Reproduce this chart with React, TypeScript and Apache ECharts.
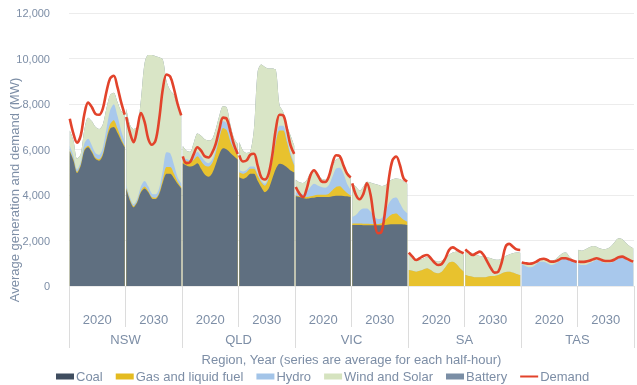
import React, { useEffect, useRef } from 'react';
import * as echarts from 'echarts';

const regions = ['NSW', 'QLD', 'VIC', 'SA', 'TAS'];
const years = ['2020', '2030'];

// each row: one region-year, 16 readings across the average day (every 1.5 h)
const coal = [
  [5910, 5510, 4970, 5290, 5960, 6100, 5880, 5590, 5510, 5740, 6400, 6910, 6990, 6740, 6400, 6100],
  [4260, 3750, 3460, 3680, 4120, 4290, 4120, 3850, 3820, 4040, 4560, 4930, 4930, 4740, 4490, 4290],
  [5400, 5300, 5250, 5300, 5400, 5150, 4900, 4800, 4950, 5350, 5800, 6050, 6000, 5850, 5700, 5550],
  [4780, 4710, 4780, 4930, 4930, 4630, 4340, 4120, 4270, 4710, 5150, 5370, 5330, 5220, 5080, 5000],
  [3940, 3910, 3870, 3840, 3870, 3880, 3910, 3910, 3910, 3910, 3940, 3970, 3970, 3960, 3940, 3910],
  [2680, 2680, 2680, 2670, 2670, 2670, 2670, 2670, 2670, 2680, 2700, 2710, 2710, 2710, 2700, 2680],
  [0, 0, 0, 0, 0, 0, 0, 0, 0, 0, 0, 0, 0, 0, 0, 0],
  [0, 0, 0, 0, 0, 0, 0, 0, 0, 0, 0, 0, 0, 0, 0, 0],
  [0, 0, 0, 0, 0, 0, 0, 0, 0, 0, 0, 0, 0, 0, 0, 0],
  [0, 0, 0, 0, 0, 0, 0, 0, 0, 0, 0, 0, 0, 0, 0, 0],
];
const gas = [
  [60, 60, 50, 50, 60, 70, 60, 60, 60, 70, 100, 200, 300, 200, 100, 60],
  [60, 50, 50, 50, 60, 80, 60, 60, 60, 70, 150, 300, 300, 200, 100, 60],
  [150, 200, 200, 250, 300, 350, 400, 450, 450, 500, 700, 900, 850, 500, 300, 200],
  [220, 220, 220, 220, 220, 230, 220, 290, 440, 730, 1180, 1470, 1510, 1110, 660, 300],
  [40, 40, 40, 70, 70, 100, 100, 100, 100, 150, 270, 380, 410, 280, 150, 70],
  [70, 70, 70, 70, 70, 60, 60, 60, 90, 220, 350, 450, 480, 340, 210, 150],
  [700, 670, 630, 670, 730, 780, 700, 590, 560, 630, 820, 1030, 1070, 970, 780, 630],
  [480, 440, 410, 380, 380, 380, 410, 440, 440, 480, 560, 620, 630, 590, 530, 480],
  [0, 0, 0, 0, 0, 0, 0, 0, 0, 0, 0, 0, 0, 0, 0, 0],
  [0, 0, 0, 0, 0, 0, 0, 0, 0, 0, 0, 0, 0, 0, 0, 0],
];
const hydro = [
  [200, 150, 100, 120, 250, 300, 250, 200, 200, 250, 400, 600, 700, 550, 350, 200],
  [120, 100, 80, 100, 200, 250, 200, 150, 150, 200, 400, 650, 600, 400, 200, 150],
  [100, 80, 80, 100, 200, 200, 200, 150, 150, 150, 200, 300, 300, 200, 150, 100],
  [100, 100, 100, 100, 100, 80, 80, 80, 100, 120, 150, 200, 200, 150, 120, 100],
  [150, 100, 120, 220, 410, 510, 410, 340, 310, 370, 590, 810, 820, 710, 410, 250],
  [290, 370, 560, 670, 670, 540, 320, 210, 220, 370, 590, 690, 700, 590, 440, 370],
  [0, 0, 0, 0, 0, 0, 0, 0, 0, 0, 0, 0, 0, 0, 0, 0],
  [0, 0, 0, 0, 0, 0, 0, 0, 0, 0, 0, 0, 0, 0, 0, 0],
  [970, 880, 820, 850, 970, 1070, 1070, 1000, 920, 970, 1070, 1170, 1220, 1140, 1070, 1000],
  [970, 920, 920, 1000, 1070, 1140, 1110, 1030, 1000, 1030, 1110, 1220, 1250, 1170, 1070, 1000],
];
const windSolar = [
  [670, 680, 480, 340, 630, 930, 1060, 1150, 1130, 1040, 900, 690, 510, 610, 850, 1190],
  [3360, 3200, 3310, 3170, 3820, 5180, 5770, 6090, 6070, 5740, 4840, 3120, 2770, 3060, 3110, 3100],
  [500, 370, 370, 650, 800, 900, 950, 1000, 900, 900, 800, 650, 700, 550, 350, 400],
  [1230, 930, 750, 660, 1660, 4470, 5100, 5140, 4750, 4000, 3010, 900, 610, 580, 760, 780],
  [540, 510, 500, 540, 620, 560, 490, 370, 350, 370, 440, 400, 400, 440, 520, 590],
  [1470, 1250, 880, 950, 1170, 1280, 1440, 1510, 1420, 1160, 950, 840, 840, 1060, 1250, 1290],
  [660, 540, 480, 470, 480, 480, 470, 530, 510, 480, 400, 340, 400, 540, 690, 730],
  [1100, 1070, 1030, 980, 940, 910, 840, 780, 720, 670, 660, 700, 760, 850, 940, 980],
  [100, 120, 100, 120, 100, 150, 150, 150, 150, 180, 220, 260, 250, 150, 70, 70],
  [620, 630, 690, 700, 690, 590, 540, 590, 650, 730, 840, 880, 810, 730, 690, 660],
];
const battery = [
  [0, 0, 0, 0, 0, 0, 0, 0, 0, 0, 0, 0, 0, 0, 0, 0],
  [0, 0, 0, 0, 0, 0, 0, 0, 0, 0, 0, 0, 0, 0, 0, 0],
  [0, 0, 0, 0, 0, 0, 0, 0, 0, 0, 0, 0, 0, 0, 0, 0],
  [0, 0, 0, 0, 0, 0, 0, 0, 0, 0, 0, 0, 0, 0, 0, 0],
  [0, 0, 0, 0, 0, 0, 0, 0, 0, 0, 0, 0, 0, 0, 0, 0],
  [0, 0, 0, 0, 0, 0, 0, 0, 0, 0, 0, 0, 0, 0, 0, 0],
  [0, 0, 0, 0, 0, 0, 0, 0, 0, 0, 0, 0, 0, 0, 0, 0],
  [0, 0, 0, 0, 0, 0, 0, 0, 0, 0, 0, 0, 0, 0, 0, 0],
  [0, 0, 0, 0, 0, 0, 0, 0, 0, 0, 0, 0, 0, 0, 0, 0],
  [0, 0, 0, 0, 0, 0, 0, 0, 0, 0, 0, 0, 0, 0, 0, 0],
];
const demand = [
  [7350, 6690, 6300, 6620, 7570, 8060, 7870, 7570, 7530, 7790, 8530, 9120, 9240, 8750, 8090, 7530],
  [7430, 6740, 6320, 6910, 7600, 7210, 6470, 6210, 6400, 7350, 8680, 9300, 9200, 8680, 8010, 7500],
  [5700, 5400, 5450, 5800, 6100, 5950, 5700, 5650, 5850, 6250, 6900, 7400, 7350, 6800, 6200, 5800],
  [5740, 5470, 5520, 5770, 5810, 5300, 4780, 4680, 4930, 5740, 6910, 7530, 7500, 6910, 6180, 5810],
  [4350, 4060, 3910, 4280, 4870, 5090, 4870, 4600, 4570, 4800, 5380, 5750, 5710, 5310, 4940, 4770],
  [4510, 4000, 3810, 4040, 4510, 4000, 2900, 2320, 2390, 3340, 4730, 5540, 5690, 5320, 4730, 4590],
  [1470, 1290, 1140, 1220, 1320, 1360, 1220, 1030, 920, 970, 1220, 1580, 1700, 1610, 1510, 1440],
  [1610, 1470, 1360, 1440, 1510, 1360, 1070, 780, 590, 630, 1070, 1730, 1850, 1730, 1610, 1580],
  [1030, 1000, 980, 1000, 1070, 1170, 1200, 1140, 1070, 1080, 1140, 1220, 1220, 1170, 1110, 1060],
  [1070, 1060, 1070, 1110, 1170, 1220, 1170, 1110, 1100, 1110, 1170, 1260, 1290, 1220, 1140, 1070],
];
const yTicks = [0, 2000, 4000, 6000, 8000, 10000, 12000];

const FONT = 'Liberation Sans';
const TXT = '#7d8ea6';

export default function App() {
  const ref = useRef<HTMLDivElement>(null);
  useEffect(() => {
    const chart = echarts.init(ref.current!, null, { renderer: 'svg' });
    const segCount = regions.length * years.length;
    const gap = 0.014;
    const xOf = (s: number, k: number, n: number) => s + gap + (k * (1 - 2 * gap)) / (n - 1);
    const stacks = [
      { name: 'Coal', data: coal, color: '#5f6f80' },
      { name: 'Gas and liquid fuel', data: gas, color: '#e8c22e' },
      { name: 'Hydro', data: hydro, color: '#a8c8ec' },
      { name: 'Wind and Solar', data: windSolar, color: '#d9e5c6' },
      { name: 'Battery', data: battery, color: '#7b8ea4' },
    ];
    const series: any[] = [];
    for (let s = 0; s < segCount; s++) {
      // cumulative tops, bottom layer first
      const tops: number[][] = [];
      stacks.forEach((st, i) => {
        const row = st.data[s];
        tops.push(row.map((v, k) => v + (i > 0 ? tops[i - 1][k] : 0)));
      });
      // draw topmost layer first so lower layers paint over it
      for (let i = stacks.length - 1; i >= 0; i--) {
        const st = stacks[i];
        const top = tops[i];
        series.push({
          type: 'line',
          name: st.name,
          data: top.map((v, k) => [xOf(s, k, top.length), v]),
          smooth: 0.3,
          symbol: 'none',
          lineStyle: { width: 0, color: st.color },
          itemStyle: { color: st.color },
          areaStyle: { color: st.color, opacity: 1 },
          emphasis: { disabled: true },
          z: 2,
        });
      }
      const d = demand[s];
      series.push({
        type: 'line',
        name: 'Demand',
        data: d.map((v, k) => [xOf(s, k, d.length), v]),
        smooth: 0.35,
        symbol: 'none',
        lineStyle: { width: 2.6, color: '#e2432b' },
        itemStyle: { color: '#e2432b' },
        emphasis: { disabled: true },
        z: 5,
      });
    }
    const yearLabels = regions.flatMap(() => years);
    chart.setOption({
      animation: false,
      textStyle: { fontFamily: FONT },
      grid: { left: 69, right: 3, top: 13, bottom: 99, containLabel: false },
      xAxis: [
        { type: 'value', min: 0, max: segCount, show: false },
        {
          type: 'category',
          data: yearLabels,
          position: 'bottom',
          axisLine: { show: false },
          axisTick: { show: true, length: 41, interval: 0, lineStyle: { color: '#dcdcdc' } },
          axisLabel: { interval: 0, margin: 27, color: TXT, fontSize: 13, fontFamily: FONT },
          splitLine: { show: false },
        },
        {
          type: 'category',
          data: regions,
          position: 'bottom',
          axisLine: { show: false },
          axisTick: { show: true, length: 62, interval: 0, lineStyle: { color: '#dcdcdc' } },
          axisLabel: { interval: 0, margin: 47, color: TXT, fontSize: 13, fontFamily: FONT },
          splitLine: { show: false },
          name: 'Region, Year (series are average for each half-hour)',
          nameLocation: 'middle',
          nameGap: 67,
          nameTextStyle: { color: TXT, fontSize: 13, fontFamily: FONT },
        },
      ],
      yAxis: {
        type: 'value',
        min: yTicks[0],
        max: yTicks[yTicks.length - 1],
        interval: 2000,
        axisLine: { show: false },
        axisTick: { show: false },
        axisLabel: {
          color: TXT,
          fontSize: 11,
          margin: 19,
          fontFamily: FONT,
          formatter: (v: number) => v.toLocaleString('en-US'),
        },
        splitLine: { lineStyle: { color: '#ececec' } },
      },
      legend: {
        top: 370,
        left: 56,
        padding: 0,
        itemWidth: 18,
        itemHeight: 6,
        itemGap: 13,
        selectedMode: false,
        textStyle: { color: TXT, fontSize: 13, fontFamily: FONT, padding: [0, 0, 0, -3] },
        data: [
          { name: 'Coal', icon: 'rect', itemStyle: { color: '#3f4d5f' } },
          { name: 'Gas and liquid fuel', icon: 'rect', itemStyle: { color: '#e4bb20' } },
          { name: 'Hydro', icon: 'rect', itemStyle: { color: '#a3c4e8' } },
          { name: 'Wind and Solar', icon: 'rect', itemStyle: { color: '#d5e3bf' } },
          { name: 'Battery', icon: 'rect', itemStyle: { color: '#7a8ea5' } },
          { name: 'Demand', icon: 'path://M0,0h18v2h-18z', itemStyle: { color: '#e2432b' } },
        ],
      },
      graphic: [
        {
          type: 'text',
          x: 14,
          y: 190,
          rotation: Math.PI / 2,
          style: {
            text: 'Average generation and demand (MW)',
            fill: TXT,
            font: `13px "${FONT}"`,
            align: 'center',
            verticalAlign: 'middle',
          },
        },
      ],
      series,
    });
    return () => chart.dispose();
  }, []);
  return <div ref={ref} style={{ position: 'fixed', left: 0, top: 0, width: 637, height: 385 }} />;
}
